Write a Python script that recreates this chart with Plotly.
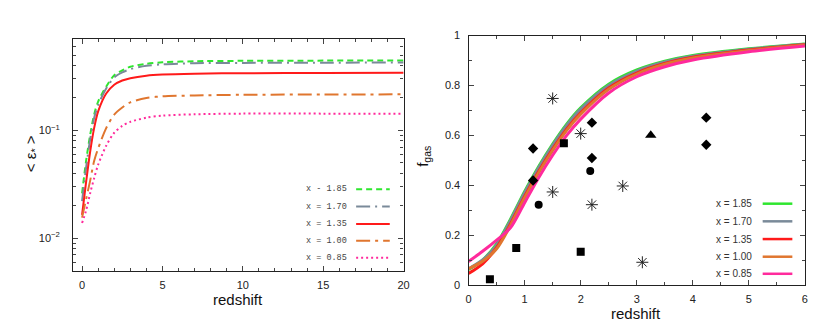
import plotly.graph_objects as go

# ---------------- data: left panel (<eps_*> vs redshift) ----------------
z_eps = [0, 0.25, 0.5, 0.75, 1, 1.5, 2, 2.5, 3, 4, 5, 7, 10, 15, 20]
eps_185 = [0.026, 0.052, 0.090, 0.140, 0.185, 0.255, 0.325, 0.360, 0.390, 0.415, 0.428, 0.438, 0.442, 0.444, 0.445]
eps_170 = [0.022, 0.045, 0.082, 0.130, 0.172, 0.245, 0.310, 0.345, 0.370, 0.397, 0.410, 0.420, 0.423, 0.425, 0.426]
eps_135 = [0.0164, 0.033, 0.063, 0.105, 0.150, 0.220, 0.265, 0.290, 0.305, 0.322, 0.330, 0.336, 0.339, 0.341, 0.342]
eps_100 = [0.0155, 0.023, 0.034, 0.052, 0.068, 0.105, 0.140, 0.163, 0.182, 0.200, 0.207, 0.211, 0.214, 0.215, 0.216]
eps_085 = [0.0138, 0.018, 0.026, 0.036, 0.048, 0.072, 0.095, 0.110, 0.120, 0.131, 0.137, 0.141, 0.143, 0.143, 0.143]

# ---------------- data: right panel (f_gas vs redshift) ----------------
z_fgas = [0, 0.25, 0.5, 0.75, 1, 1.25, 1.5, 1.75, 2, 2.5, 3, 3.5, 4, 5, 6]
fgas_185 = [0.062, 0.100, 0.165, 0.265, 0.375, 0.475, 0.565, 0.645, 0.710, 0.805, 0.862, 0.897, 0.920, 0.947, 0.966]
fgas_170 = [0.065, 0.100, 0.160, 0.260, 0.370, 0.470, 0.560, 0.640, 0.705, 0.800, 0.858, 0.894, 0.917, 0.945, 0.965]
fgas_135 = [0.046, 0.085, 0.150, 0.245, 0.355, 0.455, 0.545, 0.625, 0.690, 0.790, 0.850, 0.888, 0.913, 0.942, 0.963]
fgas_100 = [0.065, 0.095, 0.145, 0.240, 0.350, 0.450, 0.540, 0.620, 0.685, 0.785, 0.846, 0.885, 0.910, 0.940, 0.962]
fgas_085 = [0.094, 0.135, 0.180, 0.230, 0.330, 0.430, 0.520, 0.600, 0.665, 0.770, 0.835, 0.875, 0.902, 0.935, 0.958]

obs_square_z = [0.38, 0.85, 2.0, 1.7]
obs_square_f = [0.023, 0.148, 0.133, 0.568]
obs_diamond_z = [1.15, 1.15, 2.2, 2.2, 4.24, 4.24]
obs_diamond_f = [0.547, 0.419, 0.651, 0.509, 0.671, 0.562]
obs_circle_z = [1.25, 2.17]
obs_circle_f = [0.322, 0.457]
obs_triangle_z = [3.25]
obs_triangle_f = [0.600]
obs_star_z = [1.5, 2.0, 1.5, 2.2, 2.75, 3.1]
obs_star_f = [0.748, 0.607, 0.373, 0.322, 0.397, 0.091]

labels_left = ["x - 1.85", "x = 1.70", "x = 1.35", "x = 1.00", "x = 0.85"]
labels_right = ["x = 1.85", "x = 1.70", "x = 1.35", "x = 1.00", "x = 0.85"]
eps_tickvals = [0.01, 0.1]
eps_ticktext = ["10<sup>\u22122</sup>", "10<sup>\u22121</sup>"]

colors = ["#2ee62e", "#7a8a99", "#ff1a1a", "#e0762f", "#ff2a9c"]
dashes_left = ["6px,4px", "14px,5px,2px,5px", "solid", "14px,5px,3px,5px", "2px,3px"]

W, H = 830, 336
def px(x):
    return x / W
def py(y):
    return (H - y) / H

fig = go.Figure()

eps_series = [eps_185, eps_170, eps_135, eps_100, eps_085]
for ys, c, d in zip(eps_series, colors, dashes_left):
    fig.add_trace(go.Scatter(x=z_eps, y=ys, mode="lines", xaxis="x", yaxis="y",
                             line=dict(color=c, width=2, dash=d, shape="spline", smoothing=0.8),
                             showlegend=False, hoverinfo="skip"))

fgas_series = [fgas_185, fgas_170, fgas_135, fgas_100, fgas_085]
for ys, c in zip(fgas_series, colors):
    fig.add_trace(go.Scatter(x=z_fgas, y=ys, mode="lines", xaxis="x2", yaxis="y2",
                             line=dict(color=c, width=3, shape="spline", smoothing=0.8),
                             showlegend=False, hoverinfo="skip"))

mk = dict(color="black")
fig.add_trace(go.Scatter(x=obs_square_z, y=obs_square_f, mode="markers", xaxis="x2", yaxis="y2",
                         marker=dict(symbol="square", size=8, **mk), showlegend=False))
fig.add_trace(go.Scatter(x=obs_diamond_z, y=obs_diamond_f, mode="markers", xaxis="x2", yaxis="y2",
                         marker=dict(symbol="diamond", size=8, **mk), showlegend=False))
fig.add_trace(go.Scatter(x=obs_circle_z, y=obs_circle_f, mode="markers", xaxis="x2", yaxis="y2",
                         marker=dict(symbol="circle", size=8, **mk), showlegend=False))
fig.add_trace(go.Scatter(x=obs_triangle_z, y=obs_triangle_f, mode="markers", xaxis="x2", yaxis="y2",
                         marker=dict(symbol="triangle-up", size=10, **mk), showlegend=False))
fig.add_trace(go.Scatter(x=obs_star_z, y=obs_star_f, mode="markers", xaxis="x2", yaxis="y2",
                         marker=dict(symbol="asterisk-open", size=10, color="#222",
                                     line=dict(color="#222", width=1)),
                         showlegend=False))

axis_common = dict(showline=True, linecolor="#222", linewidth=1.3, mirror="allticks",
                   ticks="inside", tickcolor="#444", ticklen=5, showgrid=False, zeroline=False,
                   tickfont=dict(family="Liberation Sans, Arial, sans-serif", size=11, color="#222"))

log_minor = [k * 10 ** e for e in (-3, -2, -1) for k in range(2, 10)]
log_minor = [v for v in log_minor if 0.0049 < v < 0.71]

fig.update_layout(
    width=W, height=H, autosize=False,
    margin=dict(l=0, r=0, t=0, b=0),
    paper_bgcolor="white", plot_bgcolor="white",
    xaxis=dict(domain=[px(71), px(405)], range=[-0.55, 20], anchor="y",
               tickvals=[0, 5, 10, 15, 20], ticklabelstandoff=3,
               minor=dict(dtick=1, tick0=0, ticks="inside", ticklen=3, tickcolor="#444"),
               **axis_common),
    yaxis=dict(domain=[py(275), py(34)], type="log", range=[-2.307, -0.15], anchor="x",
               tickvals=eps_tickvals, ticktext=eps_ticktext, ticklabelstandoff=10,
               minor=dict(tickmode="array", tickvals=log_minor, ticks="inside", ticklen=3, tickcolor="#444"),
               **axis_common),
    xaxis2=dict(domain=[px(470.7), px(810.7)], range=[0, 6], anchor="y2",
                dtick=1, tick0=0, ticklabelstandoff=4,
                minor=dict(dtick=0.5, tick0=0, ticks="inside", ticklen=3, tickcolor="#444"),
                **axis_common),
    yaxis2=dict(domain=[py(289.3), py(30.7)], range=[0, 1], anchor="x2",
                dtick=0.2, tick0=0, ticklabelstandoff=5,
                minor=dict(dtick=0.1, tick0=0, ticks="inside", ticklen=3, tickcolor="#444"),
                **axis_common),
)

title_font = dict(family="Liberation Sans, Arial, sans-serif", size=15, color="#111")
annotations = [
    dict(text="redshift", x=px(238), y=py(304), xref="paper", yref="paper",
         showarrow=False, font=title_font, xanchor="center", yanchor="middle"),
    dict(text="redshift", x=px(640), y=py(319), xref="paper", yref="paper",
         showarrow=False, font=title_font, xanchor="center", yanchor="middle"),
    dict(text="< \u03b5<sub>*</sub> >", x=px(29), y=py(153), xref="paper", yref="paper",
         showarrow=False, font=title_font, textangle=-90, xanchor="center", yanchor="middle"),
    dict(text="f<sub>gas</sub>", x=px(425), y=py(156), xref="paper", yref="paper",
         showarrow=False, font=title_font, textangle=-90, xanchor="center", yanchor="middle"),
]
shapes = []

left_rows = [190, 208, 226, 243.5, 261]
for lab, c, d, yy in zip(labels_left, colors, dashes_left, left_rows):
    annotations.append(dict(text=lab, x=px(350), y=py(yy), xref="paper", yref="paper",
                            showarrow=False, xanchor="right", yanchor="middle",
                            font=dict(family="Liberation Mono, Courier New, monospace", size=8.5, color="#444")))
    shapes.append(dict(type="line", xref="paper", yref="paper", x0=px(357), x1=px(391),
                       y0=py(yy), y1=py(yy), line=dict(color=c, width=2, dash=d)))

right_rows = [205, 223.3, 241.7, 260, 277.7]
for lab, c, yy in zip(labels_right, colors, right_rows):
    annotations.append(dict(text=lab, x=px(759), y=py(yy), xref="paper", yref="paper",
                            showarrow=False, xanchor="right", yanchor="middle",
                            font=dict(family="Liberation Sans, Arial, sans-serif", size=10, color="#333")))
    shapes.append(dict(type="line", xref="paper", yref="paper", x0=px(768), x1=px(798),
                       y0=py(yy), y1=py(yy), line=dict(color=c, width=2.5)))

fig.update_layout(annotations=annotations, shapes=shapes)
fig.write_html("out.html", config={"displayModeBar": False, "responsive": False},
               post_script="document.body.style.margin='0';document.body.style.overflow='hidden';")
